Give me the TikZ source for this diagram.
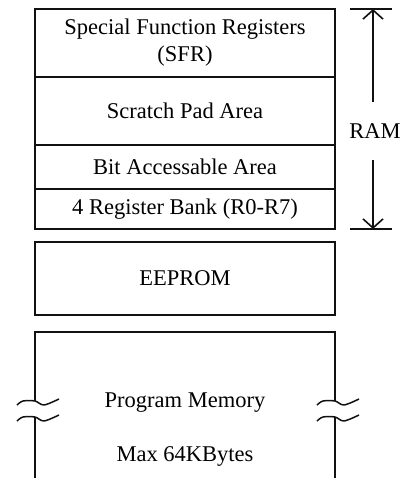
\documentclass[tikz,border=0pt]{standalone}
\usepackage{fontspec}
\setmainfont{Liberation Serif}
\usetikzlibrary{arrows.meta,positioning}
\definecolor{memInk}{HTML}{111111}
\tikzset{
  memBlock/.style={
    draw=memInk,
    line width=2pt,
    minimum width=300pt,
    align=center,
    inner sep=0pt,
    outer sep=0pt
  },
  memArea/.style={
    minimum width=300pt,
    inner sep=0pt,
    outer sep=0pt
  },
  memEdge/.style={draw=memInk, line width=2pt},
  memTick/.style={draw=memInk, line width=1.6pt},
  memArrow/.style={-{Straight Barb[length=9pt,width=20pt]}, draw=memInk, line width=1.6pt},
  memWave/.style={draw=memInk, line width=1.5pt, line join=round},
  memBreak/.pic={
    \draw[memWave] plot[smooth] coordinates {(-18,4) (-12,0) (0,0) (9,4) (24,-2)};
    \draw[memWave] plot[smooth] coordinates {(-18,20) (-12,16) (0,16) (9,20) (24,14)};
  }
}

\begin{document}
\begin{tikzpicture}[x=1pt, y=-1pt, font=\fontsize{22.5}{27}\selectfont, node distance=0pt]
  \useasboundingbox (0,0) rectangle (401,478);

  % RAM stack
  \node[memBlock, minimum height=68pt, anchor=north] (sfr) at (185,9) {Special Function Registers\\(SFR)};
  \node[memBlock, minimum height=68pt, below=of sfr] (scratch) {Scratch Pad Area};
  \node[memBlock, minimum height=44pt, below=of scratch] (bitarea) {Bit Accessable Area};
  \node[memBlock, minimum height=40pt, below=of bitarea] (bank) {4 Register Bank (R0-R7)};

  \node[memBlock, minimum height=73pt, below=13pt of bank] (eeprom) {EEPROM};

  % program memory, open at the bottom
  \node[memArea, minimum height=146pt, below=17pt of eeprom] (prog) {};
  \node (progName) at ([yshift=-71pt]prog.north) {Program Memory};
  \node (progSize) at ([yshift=-53pt]progName.center) {Max 64KBytes};
  \coordinate (brkTop) at ([yshift=-69pt]prog.north);
  \coordinate (brkBot) at ([yshift=-85pt]prog.north);
  \draw[memEdge] (prog.west |- brkTop) -- (prog.north west) -- (prog.north east) -- (prog.east |- brkTop);
  \draw[memEdge] (prog.west |- brkBot) -- (prog.south west);
  \draw[memEdge] (prog.east |- brkBot) -- (prog.south east);
  \pic at (prog.west |- brkTop) {memBreak};
  \pic at (prog.east |- brkTop) {memBreak};

  % RAM span
  \coordinate (ramTop) at ([xshift=38pt]sfr.north east);
  \coordinate (ramBot) at ([xshift=38pt]bank.south east);
  \node[minimum height=58pt, inner sep=0pt] (ram) at (375,131) {RAM};
  \foreach \c in {ramTop,ramBot}
    \draw[memTick] ([xshift=-23pt]\c) -- ([xshift=19pt]\c);
  \draw[memArrow] (ramTop |- ram.north) -- (ramTop);
  \draw[memArrow] (ramBot |- ram.south) -- (ramBot);
\end{tikzpicture}
\end{document}
